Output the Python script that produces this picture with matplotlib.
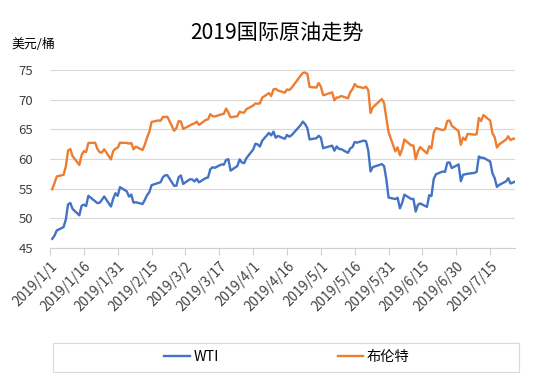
import matplotlib
matplotlib.use('Agg')
import matplotlib.pyplot as plt
from matplotlib.patches import Rectangle
import pandas as pd

plt.rcParams['font.family'] = ['Noto Sans CJK SC', 'DejaVu Sans']

title = '2019国际原油走势'
unit_label = '美元/桶'
series_names = ['WTI', '布伦特']

jan_days = [2, 3, 4, 7, 8, 9, 10, 11, 14, 15, 16, 17, 18, 21, 22, 23, 24, 25, 28, 29, 30, 31]
feb_days = [1, 4, 5, 6, 7, 8, 11, 12, 13, 14, 15, 18, 19, 20, 21, 22, 25, 26, 27, 28]
mar_days = [1, 4, 5, 6, 7, 8, 11, 12, 13, 14, 15, 18, 19, 20, 21, 22, 25, 26, 27, 28, 29]
apr_days = [1, 2, 3, 4, 5, 8, 9, 10, 11, 12, 15, 16, 17, 18, 22, 23, 24, 25, 26, 29, 30]
may_days = [1, 2, 3, 6, 7, 8, 9, 10, 13, 14, 15, 16, 17, 20, 21, 22, 23, 24, 28, 29, 30, 31]
jun_days = [3, 4, 5, 6, 7, 10, 11, 12, 13, 14, 17, 18, 19, 20, 21, 24, 25, 26, 27, 28]
jul_days = [1, 2, 3, 4, 5, 8, 9, 10, 11, 12, 15, 16, 17, 18, 19, 22, 23, 24, 25, 26]

wti_jan = [46.54, 47.09, 47.96, 48.52, 49.78, 52.36, 52.59, 51.59, 50.51, 52.11, 52.31, 52.07, 53.80, None,
           52.57, 52.62, 53.13, 53.69, 51.99, 53.31, 54.23, 53.79]
wti_feb = [55.26, 54.56, 53.66, 54.01, 52.64, 52.72, 52.41, 53.10, 53.90, 54.41, 55.59, None, 56.09, 56.92,
           57.26, 57.26, 55.48, 55.50, 56.94, 57.22]
wti_mar = [55.80, 56.59, 56.56, 56.22, 56.66, 56.07, 56.79, 56.87, 58.26, 58.61, 58.52, 59.09, 59.03, 59.83,
           59.98, 58.04, 58.82, 59.94, 59.41, 59.30, 60.14]
wti_apr = [61.59, 62.58, 62.46, 62.10, 63.08, 64.40, 63.98, 64.61, 63.58, 63.89, 63.40, 64.05, 63.76, 64.00,
           65.70, 66.30, 65.89, 65.21, 63.30, 63.50, 63.91]
wti_may = [63.60, 61.81, 61.94, 62.25, 61.40, 62.12, 61.70, 61.66, 61.04, 61.78, 62.02, 62.87, 62.76, 63.10,
           62.99, 61.42, 57.91, 58.63, 59.14, 58.81, 56.59, 53.50]
wti_jun = [53.25, 53.48, 51.68, 52.59, 53.99, 53.26, 53.27, 51.14, 52.28, 52.51, 51.93, 53.90, 53.76, 56.65,
           57.43, 57.90, 57.83, 59.38, 59.43, 58.47]
wti_jul = [59.09, 56.25, 57.34, None, 57.51, 57.66, 57.83, 60.43, 60.20, 60.21, 59.58, 57.62, 56.78, 55.30,
           55.63, 56.22, 56.77, 55.88, 56.02, 56.20]

brent_jan = [54.91, 55.95, 57.06, 57.33, 58.72, 61.44, 61.68, 60.48, 59.00, 60.64, 61.32, 61.18, 62.70, 62.74,
             61.70, 61.14, 61.09, 61.64, 59.93, 61.32, 61.75, 61.89]
brent_feb = [62.75, 62.70, 62.60, 62.69, 61.63, 62.10, 61.51, 62.42, 63.61, 64.57, 66.25, 66.50, 66.45, 67.08,
             67.07, 67.12, 64.76, 65.21, 66.39, 66.31]
brent_mar = [65.07, 65.67, 65.86, 65.99, 66.30, 65.74, 66.58, 66.67, 67.55, 67.23, 67.16, 67.54, 67.61, 68.50,
             67.86, 67.03, 67.21, 67.97, 67.83, 67.82, 68.39]
brent_apr = [69.01, 69.37, 69.31, 69.40, 70.34, 71.10, 70.61, 71.73, 71.83, 71.55, 71.18, 71.72, 71.62, 71.97,
             74.04, 74.51, 74.57, 74.35, 72.15, 72.04, 72.80]
brent_may = [72.18, 70.75, 70.85, 71.24, 69.88, 70.37, 70.39, 70.62, 70.23, 71.24, 71.77, 72.62, 72.21, 71.97,
             72.18, 71.60, 67.76, 68.69, 70.11, 69.45, 66.87, 64.49]
brent_jun = [61.28, 61.97, 60.63, 61.67, 63.29, 62.29, 62.29, 59.97, 61.31, 62.01, 60.94, 62.14, 61.82, 64.45,
             65.20, 64.86, 65.05, 66.40, 66.50, 65.60]
brent_jul = [64.70, 62.40, 63.60, 63.20, 64.23, 64.11, 64.16, 66.90, 66.40, 67.40, 66.48, 64.35, 63.66, 61.93,
             62.47, 63.26, 63.83, 63.18, 63.39, 63.46]

month_days = [jan_days, feb_days, mar_days, apr_days, may_days, jun_days, jul_days]
dates = [pd.Timestamp(2019, m + 1, d) for m, days in enumerate(month_days) for d in days]
wti = wti_jan + wti_feb + wti_mar + wti_apr + wti_may + wti_jun + wti_jul
brent = brent_jan + brent_feb + brent_mar + brent_apr + brent_may + brent_jun + brent_jul

tick_start = pd.Timestamp(2019, 1, 1)
x_end = pd.Timestamp(2019, 7, 26)
tick_dates = pd.date_range(tick_start, x_end, freq='15D')
tick_labels = [f'{d.year}/{d.month}/{d.day}' for d in tick_dates]
y_ticks = [45, 50, 55, 60, 65, 70, 75]

W, H = 554, 373
fig = plt.figure(figsize=(W / 100, H / 100), dpi=100)
ax = fig.add_axes([50 / W, 1 - 248 / H, (515 - 50) / W, (248 - 70) / H])

df = pd.DataFrame({'date': dates, 'wti': wti, 'brent': brent})
wti_df = df.dropna(subset=['wti'])
ax.plot(wti_df['date'], wti_df['wti'].astype(float), color='#4472C4', lw=1.7, label=series_names[0],
        solid_joinstyle='round')
ax.plot(df['date'], df['brent'].astype(float), color='#ED7D31', lw=1.7, label=series_names[1],
        solid_joinstyle='round')

ax.set_xlim(tick_start, x_end)
ax.set_ylim(45, 75)
ax.set_yticks(y_ticks)
ax.set_yticklabels([str(v) for v in y_ticks], fontsize=9.5, color='#404040')
ax.set_xticks(tick_dates)
ax.set_xticklabels(tick_labels, rotation=45, ha='right', rotation_mode='anchor', fontsize=9.8, color='#404040')
ax.tick_params(axis='y', length=0, pad=12)
ax.tick_params(axis='x', length=5, color='#d0d0d0', width=0.8, pad=3)
ax.grid(axis='y', color='#d9d9d9', lw=0.8)
ax.set_axisbelow(True)
for s in ['top', 'right', 'left']:
    ax.spines[s].set_visible(False)
ax.spines['bottom'].set_color('#d0d0d0')
ax.spines['bottom'].set_linewidth(0.8)

fig.text(277 / W, 1 - 33 / H, title, ha='center', va='center', fontsize=15.2, color='#000000')
fig.text(11 / W, 1 - 44 / H, unit_label, ha='left', va='center', fontsize=9.3, color='#000000')

fig.patches.append(Rectangle((53 / W, 1 - 372 / H), (519 - 53) / W, (372 - 343) / H,
                             transform=fig.transFigure, fill=False, edgecolor='#d9d9d9', lw=0.8))
fig.legend(loc='center', bbox_to_anchor=(287 / W, 1 - 357 / H), ncol=2, frameon=False, fontsize=10.3,
           handlelength=1.8, handletextpad=0.25, columnspacing=8.3)

fig.savefig('out.png', dpi=100)
